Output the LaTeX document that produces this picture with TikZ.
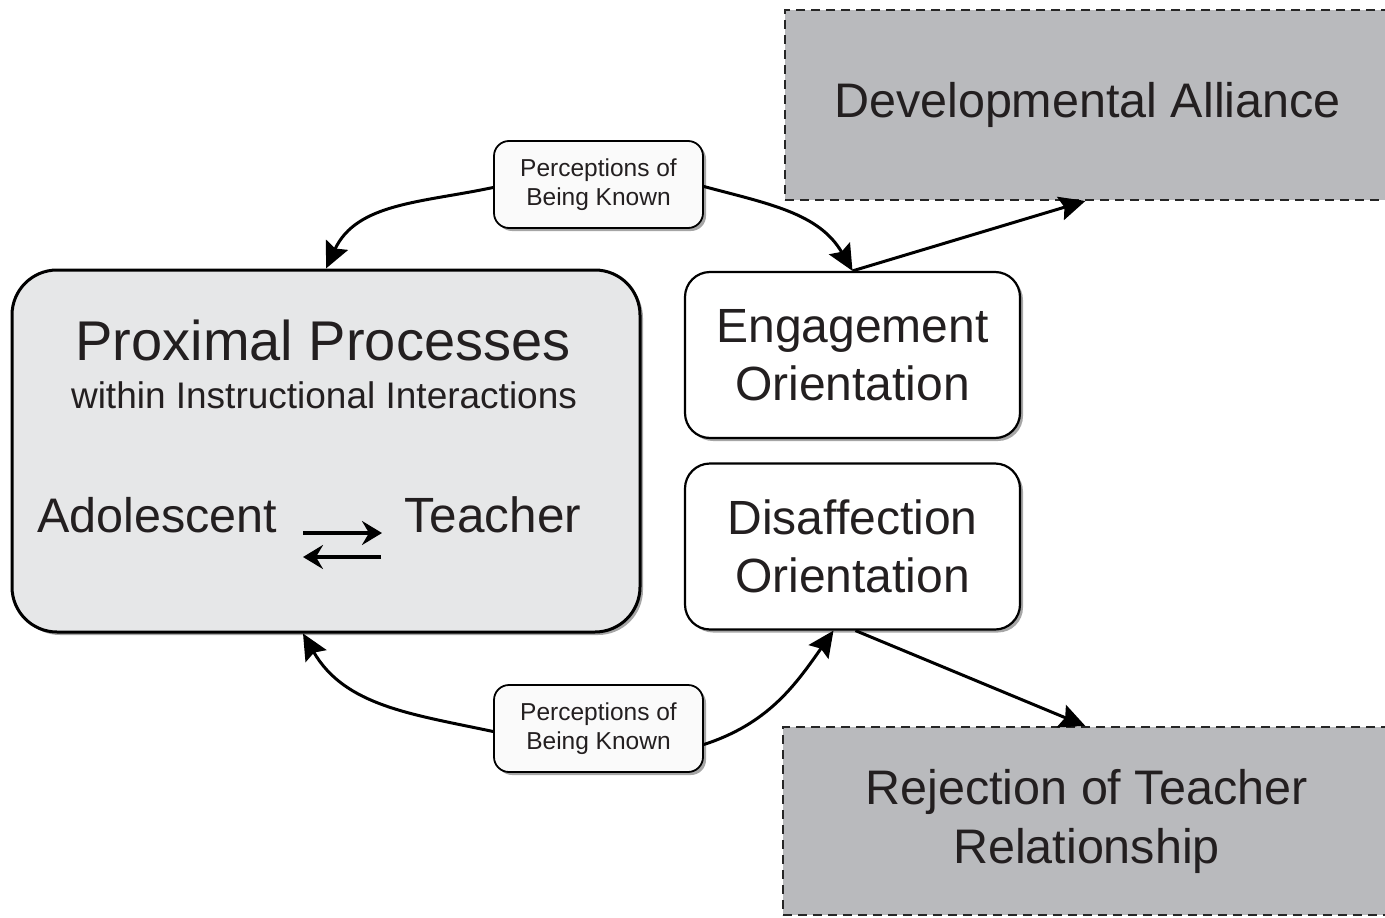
\documentclass[tikz,border=0pt]{standalone}
\usepackage{fontspec}
\setmainfont{Liberation Sans}
\usetikzlibrary{arrows.meta,shadows}
\definecolor{txt}{HTML}{231F20}
\definecolor{proxfill}{HTML}{E6E7E8}
\definecolor{outfill}{HTML}{B9BABD}
\begin{document}
\begin{tikzpicture}[x=1pt,y=-1pt,
  every node/.style={text=txt},
  shad/.style={drop shadow={shadow xshift=3pt,shadow yshift=-3pt,fill=black,opacity=0.35}},
  proxbox/.style={draw=black,line width=3pt,fill=proxfill,rounded corners=45pt,minimum width=628pt,minimum height=362pt,shad},
  orientbox/.style={draw=black,line width=2.2pt,fill=white,rounded corners=25pt,minimum width=335pt,minimum height=166pt,align=center,font=\fontsize{48}{58}\selectfont,shad},
  knownbox/.style={draw=black,line width=1.8pt,fill=black!2,rounded corners=15pt,minimum width=209pt,minimum height=87pt,align=center,font=\fontsize{24.5}{29}\selectfont,shad},
  outbox/.style={draw=black!85,line width=1.8pt,dash pattern=on 9pt off 6pt,fill=outfill,align=center,font=\fontsize{48.5}{59}\selectfont},
  conn/.style={draw=black,line width=3pt,-{Stealth[length=26pt,width=24pt,inset=4pt]}},
  swap/.style={draw=black,line width=4.5pt,-{Stealth[length=20pt,width=24pt,inset=7pt]}}
]
\useasboundingbox (0,0) rectangle (1385,918);
\fill[white] (0,0) rectangle (1385,918);

\node[outbox,minimum width=605pt,minimum height=190pt] (dev) at (1087.5,105) {Developmental Alliance};
\node[outbox,minimum width=607pt,minimum height=188pt] (rej) at (1086.5,821) {Rejection of Teacher\\Relationship};

\node[proxbox] (prox) at (326,451) {};
\node[anchor=base,font=\fontsize{56}{60}\selectfont] (pp) at (323,360) {Proximal Processes};
\node[anchor=base,font=\fontsize{37}{40}\selectfont] (wi) at (324,408) {within Instructional Interactions};
\node[anchor=base,font=\fontsize{48.5}{50}\selectfont] (ado) at (157,532) {Adolescent};
\node[anchor=base,font=\fontsize{49.5}{50}\selectfont] (tea) at (493,532) {Teacher};
\coordinate (a1) at (303,533);
\coordinate (a2) at (382,533);
\coordinate (b1) at (381,557);
\coordinate (b2) at (303,557);
\draw[swap] (a1) -- (a2);
\draw[swap] (b1) -- (b2);

\node[orientbox] (eng) at (852.5,355) {Engagement\\Orientation};
\node[orientbox] (dis) at (852.5,546.5) {Disaffection\\Orientation};

\node[knownbox] (tpk) at (598.5,184.5) {Perceptions of\\Being Known};
\node[knownbox] (bpk) at (598.5,728.5) {Perceptions of\\Being Known};

\draw[conn] ([yshift=-3pt]tpk.west) to[out=192,in=65] (prox.north);
\draw[conn] ([yshift=-2pt]tpk.east) to[out=-15,in=120] (eng.north);
\draw[conn] (eng.north) -- ([xshift=-2pt]dev.south);
\draw[conn] ([yshift=-3pt]bpk.west) to[out=168,in=-60] ([xshift=-23pt]prox.south);
\draw[conn] ([yshift=-16pt]bpk.east) to[out=18,in=-125] ([xshift=-19pt]dis.south);
\draw[conn] ([xshift=3pt]dis.south) -- ([xshift=-1pt]rej.north);
\end{tikzpicture}
\end{document}
